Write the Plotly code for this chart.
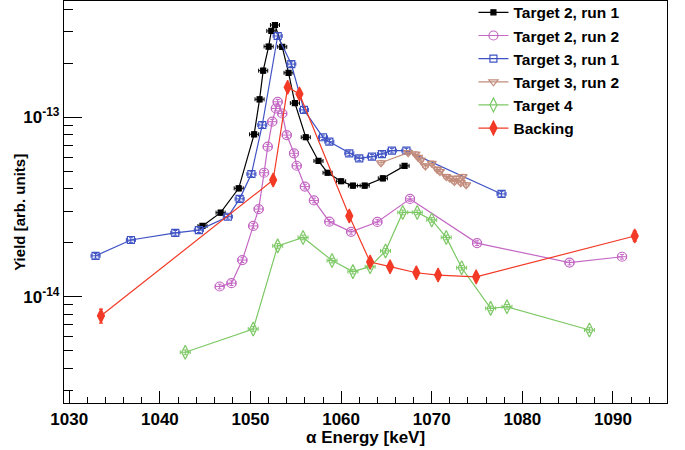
import plotly.graph_objects as go

# ---------------- data ----------------
t2r1_e = [1044.7, 1046.7, 1048.7, 1050.4, 1051.0, 1051.4, 1052.0, 1052.3, 1052.7,
          1053.5, 1054.2, 1054.9, 1056.1, 1057.5, 1058.5, 1060.0, 1061.3, 1062.6,
          1064.6, 1067.0]
t2r1_y = [2.48e-14, 2.94e-14, 4.02e-14, 8.04e-14, 1.26e-13, 1.82e-13, 2.48e-13, 3.03e-13, 3.27e-13,
          2.47e-13, 1.77e-13, 1.20e-13, 7.74e-14, 5.71e-14, 4.91e-14, 4.40e-14, 4.16e-14, 4.16e-14,
          4.57e-14, 5.36e-14]

t2r2_e = [1046.6, 1047.9, 1049.1, 1050.3, 1050.9, 1051.5, 1051.9, 1052.4, 1052.8, 1053.0,
          1053.5, 1054.0, 1054.8, 1055.1, 1056.0, 1057.0, 1058.7, 1061.1, 1064.0, 1067.6,
          1075.0, 1085.2, 1091.0]
t2r2_y = [1.14e-14, 1.19e-14, 1.60e-14, 2.48e-14, 3.08e-14, 4.91e-14, 6.86e-14, 9.45e-14, 1.12e-13, 1.22e-13,
          1.05e-13, 7.96e-14, 6.30e-14, 5.37e-14, 4.11e-14, 3.44e-14, 2.62e-14, 2.30e-14, 2.61e-14, 3.51e-14,
          1.99e-14, 1.55e-14, 1.67e-14]

t3r1_e = [1032.9, 1036.8, 1041.7, 1044.3, 1047.5, 1048.8, 1050.1, 1051.3, 1053.0, 1054.5,
          1055.9, 1058.0, 1058.7, 1060.9, 1062.0, 1063.4, 1064.5, 1065.6, 1067.2, 1077.7]
t3r1_y = [1.69e-14, 2.07e-14, 2.27e-14, 2.35e-14, 2.79e-14, 3.51e-14, 4.83e-14, 9.06e-14, 2.84e-13, 1.98e-13,
          1.10e-13, 7.74e-14, 7.31e-14, 6.30e-14, 5.91e-14, 6.03e-14, 6.24e-14, 6.52e-14, 6.52e-14, 3.74e-14]

t3r2_e = [1064.4, 1067.4, 1068.2, 1068.5, 1068.8, 1069.3, 1070.0, 1070.6, 1070.9, 1071.6,
          1072.0, 1072.5, 1072.7, 1073.2, 1073.4, 1073.8]
t3r2_y = [5.58e-14, 6.35e-14, 6.24e-14, 5.98e-14, 5.78e-14, 5.35e-14, 5.54e-14, 5.13e-14, 4.98e-14, 4.67e-14,
          4.57e-14, 4.38e-14, 4.57e-14, 4.32e-14, 4.67e-14, 4.20e-14]

t4_e = [1042.8, 1050.3, 1053.0, 1055.8, 1059.0, 1061.3, 1063.2, 1064.9, 1066.8, 1068.4,
        1070.0, 1071.6, 1073.3, 1076.5, 1078.3, 1087.4]
t4_y = [4.90e-15, 6.61e-15, 1.92e-14, 2.14e-14, 1.59e-14, 1.38e-14, 1.47e-14, 1.80e-14, 2.95e-14, 2.95e-14,
        2.68e-14, 2.14e-14, 1.45e-14, 8.61e-15, 8.79e-15, 6.52e-15]

back_e = [1033.5, 1052.5, 1054.1, 1055.4, 1060.9, 1063.2, 1065.4, 1068.3, 1070.7, 1074.9, 1092.4]
back_y = [7.83e-15, 4.47e-14, 1.47e-13, 1.35e-13, 2.82e-14, 1.56e-14, 1.47e-14, 1.36e-14, 1.32e-14, 1.29e-14, 2.18e-14]
back_err = [0.7e-15, 1.5e-15, 5.0e-15, 4.5e-15, 1.2e-15, 0.6e-15, 0.6e-15, 0.5e-15, 0.5e-15, 0.5e-15, 1.4e-15]

series_names = ["Target 2, run 1", "Target 2, run 2", "Target 3, run 1",
                "Target 3, run 2", "Target 4", "Backing"]

x_tick_vals = [1030, 1040, 1050, 1060, 1070, 1080, 1090]
y_tick_vals = [1e-14, 1e-13]
y_tick_text = ["10<sup>-14</sup>", "10<sup>-13</sup>"]
y_minor_vals = [m * 10.0 ** e for e in (-15, -14, -13) for m in range(2, 10)]

# ---------------- figure ----------------
FONT = "Liberation Sans, Arial, Helvetica, sans-serif"

def trace(x, y, name, color, symbol, size, ex=0.5, ey=None):
    err_y = dict(type="percent", value=3, color=color, thickness=1, width=2)
    if ey is not None:
        err_y = dict(type="data", array=ey, color=color, thickness=1.2, width=2)
    return go.Scatter(
        x=x, y=y, name=name, mode="lines+markers",
        line=dict(color=color, width=1.2),
        marker=dict(symbol=symbol, size=size, color=color,
                    line=dict(color=color, width=1.2)),
        error_x=dict(type="constant", value=ex, color=color, thickness=1, width=2),
        error_y=err_y,
    )

fig = go.Figure()
fig.add_trace(trace(t2r1_e, t2r1_y, series_names[0], "#000000", "square", 5))
fig.add_trace(trace(t2r2_e, t2r2_y, series_names[1], "#c468c4", "circle-open", 9))
fig.add_trace(trace(t3r1_e, t3r1_y, series_names[2], "#3f52c4", "square-open", 7))
fig.add_trace(trace(t3r2_e, t3r2_y, series_names[3], "#c28c7c", "triangle-down-open", 8, ex=0.3))
fig.add_trace(trace(t4_e, t4_y, series_names[4], "#7cc864", "diamond-tall-open", 10, ex=0.55))
fig.add_trace(trace(back_e, back_y, series_names[5], "#f23a26", "diamond-tall", 10, ex=0, ey=back_err))

fig.update_layout(
    width=685, height=450,
    margin=dict(l=64, r=18, t=1, b=47, autoexpand=False),
    paper_bgcolor="white", plot_bgcolor="white",
    font=dict(family=FONT, color="black"),
    showlegend=True,
    legend=dict(x=0.679, y=1.013, xanchor="left", yanchor="top",
                bgcolor="rgba(255,255,255,0)", borderwidth=0,
                font=dict(family=FONT, size=15.5, weight="bold", color="black"),
                tracegroupgap=0),
)

fig.update_xaxes(
    range=[1029.42, 1095.96], showgrid=False, zeroline=False, automargin=False,
    showline=True, linecolor="black", linewidth=1.4, mirror=True,
    ticks="inside", ticklen=12, tickwidth=1, tickcolor="black",
    tickmode="array", tickvals=x_tick_vals,
    tickfont=dict(family=FONT, size=17, weight="bold"),
    minor=dict(ticks="inside", ticklen=6, tickwidth=1, tickcolor="black", dtick=2, tick0=1030),
)
fig.update_yaxes(
    type="log", range=[-14.5925, -12.3517], showgrid=False, zeroline=False, automargin=False,
    showline=True, linecolor="black", linewidth=1.4, mirror=True,
    ticks="inside", ticklen=18, tickwidth=1, tickcolor="black",
    tickmode="array", tickvals=y_tick_vals, ticktext=y_tick_text,
    tickfont=dict(family=FONT, size=17, weight="bold"),
    minor=dict(ticks="inside", ticklen=9, tickwidth=1, tickcolor="black",
               tickmode="array", tickvals=y_minor_vals),
)

fig.add_annotation(text="α Energy [keV]", xref="paper", yref="paper",
                   x=0.5, y=-0.085, xanchor="center", yanchor="middle", showarrow=False,
                   font=dict(family=FONT, size=17, weight="bold"))
fig.add_annotation(text="Yield [arb. units]", xref="paper", yref="paper",
                   x=-0.075, y=0.475, xanchor="center", yanchor="middle", showarrow=False,
                   textangle=-90, font=dict(family=FONT, size=15, weight="bold"))

fig.write_html("out.html", config={"displayModeBar": False},
               post_script="document.body.style.margin='0';")
